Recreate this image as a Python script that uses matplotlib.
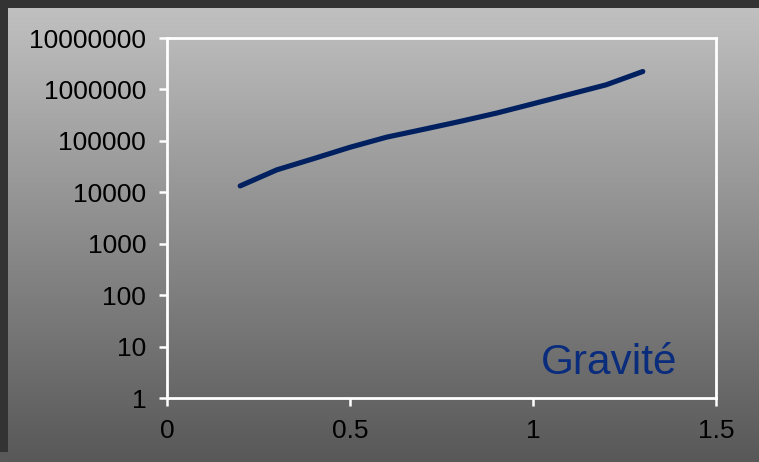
import numpy as np
import matplotlib
matplotlib.use("Agg")
from matplotlib import pyplot as plt, ticker, patches

plt.rcParams["font.family"] = ["Liberation Sans", "DejaVu Sans"]

# data
ratio = [0.2, 0.3, 0.4, 0.5, 0.6, 0.7, 0.8, 0.9, 1.0, 1.1, 1.2, 1.3]
gravity = [13300, 27300, 45000, 75000, 118000, 167000, 238000, 346000,
           526000, 804000, 1230000, 2230000]
y_ticks = [1, 10, 100, 1000, 10000, 100000, 1000000, 10000000]
x_ticks = [0, 0.5, 1, 1.5]
label = "Gravité"

W, H = 759, 462
fig = plt.figure(figsize=(W / 100, H / 100), dpi=100)
fig.patch.set_facecolor("#333333")

# gray gradient panel behind the chart
bg = fig.add_axes([8 / W, 0, 1 - 8 / W, 1 - 8 / H])
grad = np.linspace(192, 88, 256).reshape(-1, 1) / 255.0
bg.imshow(np.dstack([grad, grad, grad]), aspect="auto", extent=[0, 1, 0, 1])
bg.set_axis_off()
fig.patches.append(patches.Rectangle((0, 0), 8 / W, 10 / H, transform=fig.transFigure,
                                     facecolor="#595959", edgecolor="none", zorder=0))

ax = fig.add_axes([167 / W, 1 - 398 / H, (716 - 167) / W, (398 - 38) / H])
ax.set_facecolor("none")
ax.plot(ratio, gravity, color="#002060", lw=3.7, solid_capstyle="round",
        solid_joinstyle="round")

ax.set_yscale("log")
ax.set_ylim(1, 1e7)
ax.set_xlim(0, 1.5)
ax.set_yticks(y_ticks)
ax.yaxis.set_major_formatter(ticker.FuncFormatter(lambda v, p: f"{v:.0f}"))
ax.yaxis.set_minor_locator(ticker.NullLocator())
ax.set_xticks(x_ticks)
ax.set_xticklabels(["0", "0.5", "1", "1.5"])

for s in ax.spines.values():
    s.set_color("white")
    s.set_linewidth(2)
ax.tick_params(direction="out", length=6, width=1.8, color="white",
               labelsize=19, labelcolor="black", pad=9)

ax.text(0.805, 0.067, label, transform=ax.transAxes, ha="center", va="baseline",
        fontsize=30.5, color="#0a2c7c")

fig.savefig("out.png", dpi=100, facecolor=fig.get_facecolor())
